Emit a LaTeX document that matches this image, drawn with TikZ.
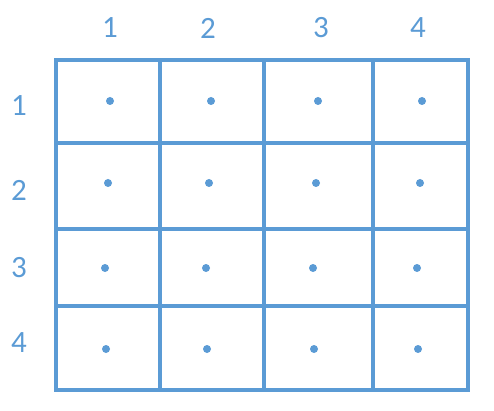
\documentclass[tikz,border=0pt]{standalone}
\usepackage{fontspec}
\setmainfont{Carlito}
\usepackage{xcolor}
\usepackage{tikz}
\usetikzlibrary{positioning,calc}

\definecolor{cellblue}{RGB}{91,155,213}

\begin{document}
\begin{tikzpicture}[
    x=1pt,
    y=-1pt,
    gridline/.style={cellblue, line width=3.3pt, line cap=rect},
    label/.style={text=cellblue, font=\fontsize{31}{31}\selectfont, inner sep=0pt},
    dot/.style={circle, fill=cellblue, inner sep=0pt, minimum size=8pt}
]
    \useasboundingbox (0,0) rectangle (494,411);

    % Grid lines
    \foreach \x in {56,160,264,373,468} \draw[gridline] (\x,60) -- (\x,390);
    \foreach \y in {60,143,229,306,390} \draw[gridline] (56,\y) -- (468,\y);

    % Column labels
    \foreach \n/\x in {1/110,2/208,3/321,4/418}
        \node[label] (col-\n) at (\x,28) {\n};

    % Row labels
    \foreach \n/\y in {1/106,2/190,3/268,4/343}
        \node[label] (row-\n) at (19,\y) {\n};

    % Cell centres
    \foreach \c/\x in {1/110,2/211,3/318,4/422} \node[dot] (dot-1-\c) at (\x,101) {};
    \foreach \c/\x in {1/108,2/209,3/316,4/420} \node[dot] (dot-2-\c) at (\x,183) {};
    \foreach \c/\x in {1/105,2/206,3/313,4/417} \node[dot] (dot-3-\c) at (\x,268) {};
    \foreach \c/\x in {1/106,2/207,3/314,4/418} \node[dot] (dot-4-\c) at (\x,349) {};
\end{tikzpicture}
\end{document}
